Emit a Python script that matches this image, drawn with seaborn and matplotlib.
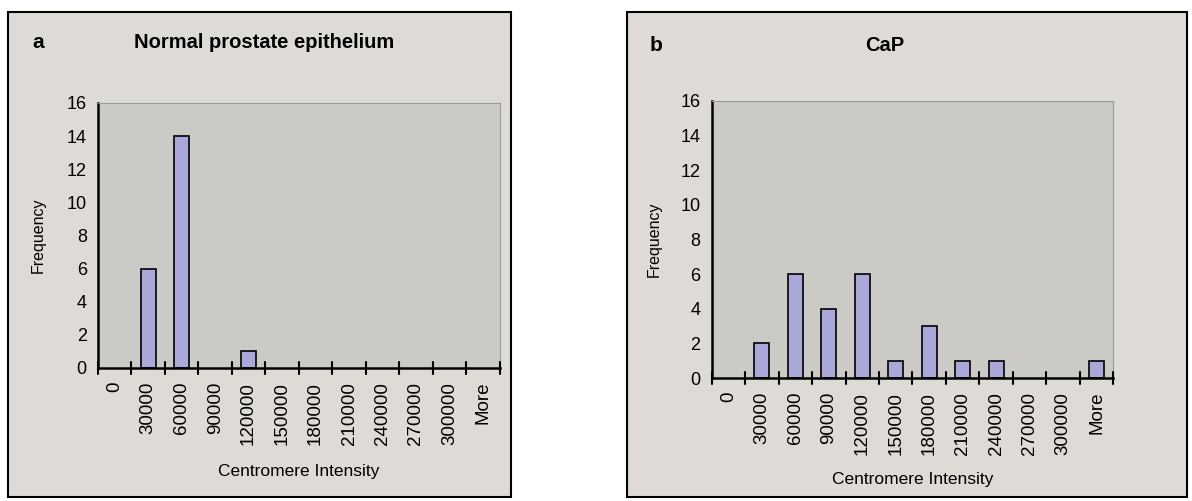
import matplotlib
matplotlib.use("Agg")
import matplotlib.pyplot as plt
import seaborn as sns
import pandas as pd
from matplotlib.patches import Rectangle

# data
categories = ["0", "30000", "60000", "90000", "120000", "150000", "180000",
              "210000", "240000", "270000", "300000", "More"]
normal_freq = [0, 6, 14, 0, 1, 0, 0, 0, 0, 0, 0, 0]
cap_freq = [0, 2, 6, 4, 6, 1, 3, 1, 1, 0, 0, 1]
y_ticks = [0, 2, 4, 6, 8, 10, 12, 14, 16]

sns.set_theme(style="white")
plt.rcParams["font.family"] = ["Liberation Sans", "DejaVu Sans"]
plt.rcParams["text.color"] = "black"
plt.rcParams["xtick.color"] = "black"
plt.rcParams["ytick.color"] = "black"

BAR = "#a9a8d8"
PANEL_BG = "#dedad5"
PLOT_BG = "#cccac7"

fig = plt.figure(figsize=(11.92, 5.01), dpi=100)
fig.patch.set_facecolor("white")

# outer frames of the two panels
for x0, w in [(0.0067, 0.422), (0.526, 0.47)]:
    fig.patches.append(Rectangle((x0, 0.008), w, 0.968, transform=fig.transFigure,
                                 facecolor=PANEL_BG, edgecolor="black", lw=1.5, zorder=-1))


def draw_panel(rect, values, letter, title, letter_x, title_x, title_y, ylab_x, xlab_y):
    ax = fig.add_axes(rect)
    ax.set_zorder(1)
    df = pd.DataFrame({"bin": categories, "freq": values})
    sns.barplot(data=df, x="bin", y="freq", color=BAR, width=0.45,
                edgecolor="black", linewidth=1.2, saturation=1, ax=ax)
    # empty bins show no bar in the original
    for patch, v in zip(ax.patches, values):
        if v == 0:
            patch.set_visible(False)
    ax.set_facecolor(PLOT_BG)
    ax.set_ylim(0, 16)
    ax.set_xlim(-0.5, len(categories) - 0.5)
    ax.set_yticks(y_ticks)
    ax.set_yticklabels([str(t) for t in y_ticks], fontsize=13)
    ax.set_xticks(range(len(categories)))
    ax.set_xticklabels(categories, rotation=90, fontsize=13.5)
    ax.tick_params(axis="x", length=0, pad=10)
    # Excel style ticks crossing the axis at category boundaries
    for b in range(len(categories) + 1):
        ax.plot([b - 0.5, b - 0.5], [-0.35, 0.35], color="black", lw=1.5,
                clip_on=False, zorder=5)
    ax.tick_params(axis="y", direction="inout", length=9, width=1.5, color="black")
    for side in ["top", "right"]:
        ax.spines[side].set_color("#999999")
        ax.spines[side].set_linewidth(0.8)
    for side in ["left", "bottom"]:
        ax.spines[side].set_color("black")
        ax.spines[side].set_linewidth(1.8)
    ax.set_xlabel("")
    ax.set_ylabel("")
    fig.text(letter_x, title_y, letter, fontsize=15, fontweight="bold", va="center")
    fig.text(title_x, title_y, title, fontsize=14.5, fontweight="bold",
             ha="center", va="center")
    fig.text(ylab_x, rect[1] + rect[3] / 2, "Frequency", rotation=90, fontsize=11.5,
             ha="center", va="center")
    fig.text(rect[0] + rect[2] / 2, xlab_y, "Centromere Intensity", fontsize=12.5,
             ha="center", va="center")
    return ax


draw_panel([0.0822, 0.2655, 0.337, 0.529], normal_freq, "a",
           "Normal prostate epithelium", 0.027, 0.222, 0.916, 0.032, 0.058)
draw_panel([0.597, 0.2455, 0.337, 0.553], cap_freq, "b",
           "CaP", 0.545, 0.742, 0.91, 0.549, 0.042)

fig.savefig("out.png", dpi=100, facecolor=fig.get_facecolor())
